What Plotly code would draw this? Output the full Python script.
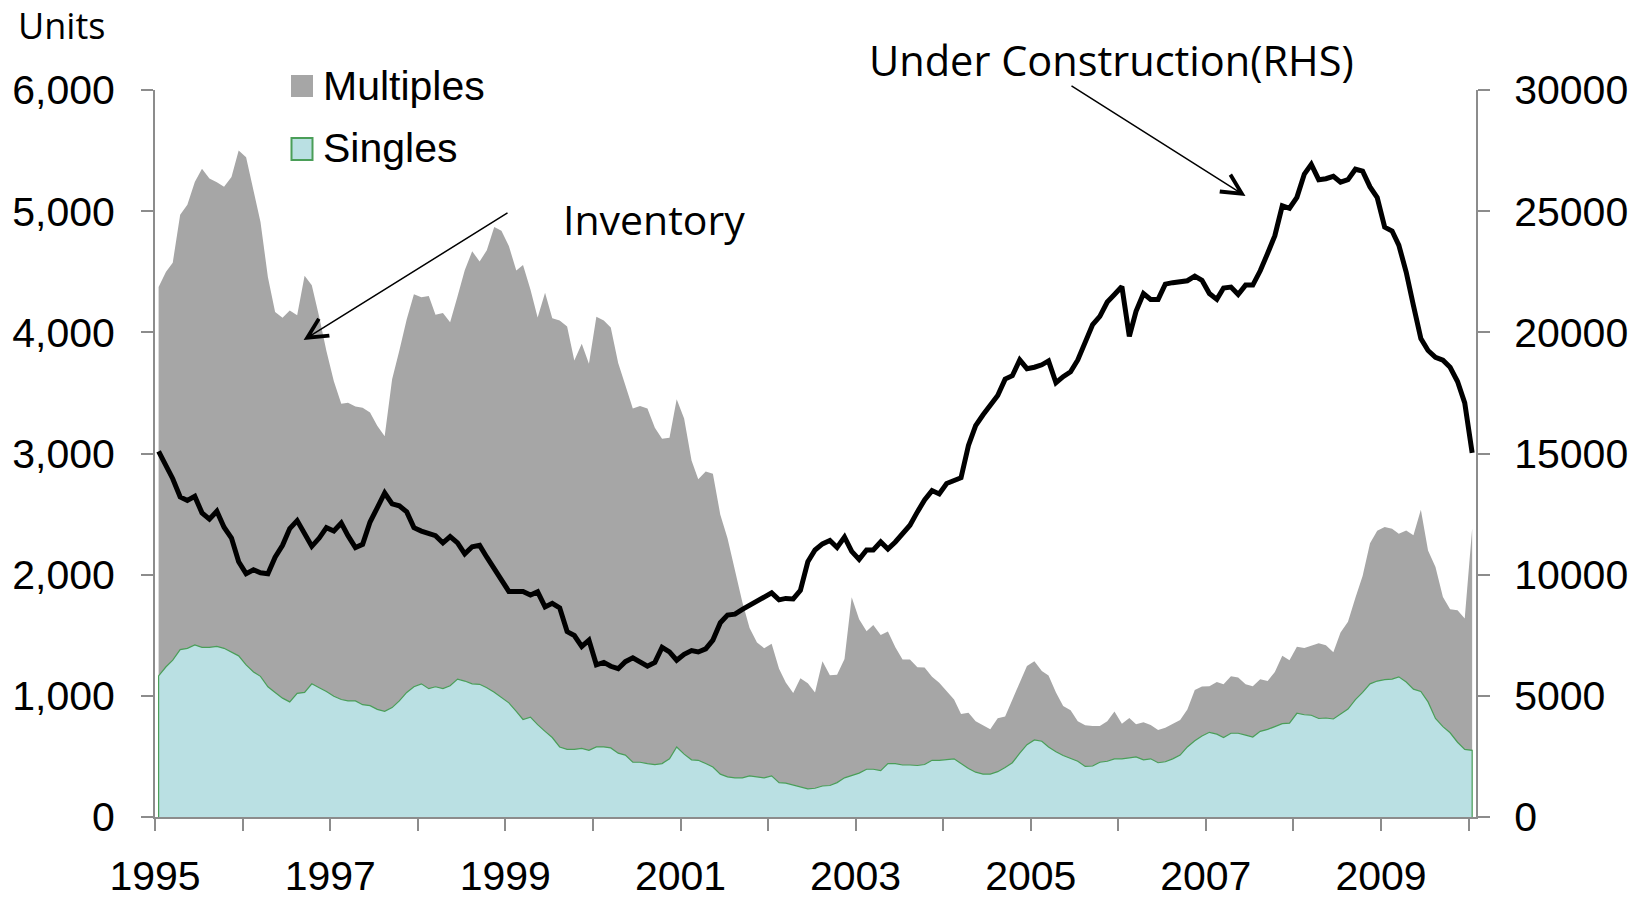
import pandas as pd
import plotly.graph_objects as go

# ---------------- data (monthly, Jan 1995 - Jan 2010) ----------------
start_month = "1995-01-01"
n_months = 181

singles = [1165,1240,1295,1381,1392,1420,1400,1400,1408,1392,
           1361,1330,1255,1197,1161,1075,1028,981,950,1020,
           1028,1099,1067,1036,997,970,958,958,927,919,
           888,872,903,958,1028,1075,1099,1059,1075,1059,
           1083,1138,1122,1099,1095,1067,1030,989,942,871,
           805,824,762,707,656,578,558,558,566,550,
           578,578,570,527,511,452,452,441,433,441,
           480,578,519,472,468,441,413,354,331,323,
           323,339,331,323,339,284,280,264,245,233,
           237,256,260,284,323,343,362,394,394,382,
           441,441,429,429,425,433,468,468,472,480,
           441,401,370,354,354,374,409,448,527,597,
           636,625,578,538,507,480,460,417,421,452,
           460,480,480,488,496,472,480,448,456,480,
           511,578,629,668,699,684,656,691,691,676,
           660,707,723,746,770,774,856,844,840,813,
           817,809,852,891,969,1028,1099,1122,1134,1138,
           1157,1114,1055,1036,950,813,746,695,617,558,
           550]

multiples = [3210,3260,3280,3590,3660,3820,3950,3870,3830,3810,
             3920,4170,4190,3980,3750,3380,3140,3140,3230,3120,
             3440,3290,3060,2810,2600,2440,2460,2430,2450,2420,
             2340,2270,2710,2890,3080,3240,3190,3240,3070,3100,
             3000,3160,3390,3570,3490,3610,3840,3850,3770,3640,
             3750,3530,3360,3620,3460,3520,3490,3210,3340,3190,
             3550,3520,3470,3220,3060,2920,2940,2930,2780,2680,
             2650,2870,2770,2470,2320,2410,2420,2140,1970,1720,
             1450,1220,1110,1070,1090,940,830,760,900,870,
             790,1030,910,890,980,1470,1270,1140,1190,1120,
             1090,960,870,870,810,800,690,640,570,490,
             410,460,420,400,370,440,420,520,580,650,
             650,580,590,490,410,400,330,340,330,300,
             330,390,290,330,270,310,280,270,280,290,
             290,310,420,410,380,430,440,470,460,420,
             420,430,400,450,560,520,550,550,570,620,
             600,550,670,720,840,960,1160,1240,1260,1240,
             1180,1250,1270,1500,1250,1250,1070,1020,1090,1080,
             1830]

under_construction = [15090,14540,13960,13210,13060,13230,12550,12290,12620,11960,
                      11510,10530,10040,10200,10080,10040,10720,11210,11900,12230,
                      11700,11170,11510,11940,11800,12130,11610,11120,11250,12170,
                      12760,13370,12920,12840,12590,11940,11800,11680,11610,11310,
                      11570,11310,10860,11150,11210,10720,10230,9800,9310,9310,
                      9310,9160,9290,8670,8820,8630,7650,7490,7040,7300,
                      6280,6380,6220,6120,6410,6570,6410,6220,6380,7000,
                      6810,6470,6710,6870,6810,6940,7300,8020,8330,8370,
                      8570,8730,8900,9060,9250,8960,9020,9000,9350,10530,
                      11020,11270,11410,11120,11550,10960,10630,11020,11020,11350,
                      11060,11350,11700,12040,12590,13080,13470,13330,13760,13860,
                      14000,15330,16150,16600,17030,17390,18070,18210,18860,18500,
                      18560,18660,18820,17920,18170,18370,18860,19540,20320,20660,
                      21250,21560,21890,19830,20870,21600,21360,21360,21990,22050,
                      22100,22130,22320,22150,21600,21360,21830,21870,21560,21950,
                      21950,22540,23260,23990,25220,25120,25570,26530,26930,26300,
                      26340,26440,26200,26300,26730,26650,26000,25560,24340,24180,
                      23600,22480,21110,19740,19250,18970,18850,18560,17970,17090,
                      15030]

years = list(range(1995, 2011))
year_labels = [str(y) if (y - 1995) % 2 == 0 and y < 2010 else "" for y in years]
left_ticks = [0, 1000, 2000, 3000, 4000, 5000, 6000]
right_ticks = [0, 5000, 10000, 15000, 20000, 25000, 30000]

# ---------------- styling ----------------
GRAY = "#A6A6A6"
CYAN = "#BAE0E3"
GREEN = "#4A9E58"
AXIS = "#8C8C8C"
NUM_FONT = "Liberation Sans, Arial, sans-serif"
TXT_FONT = "Open Sans, sans-serif"

W, H = 1646, 899
L, R, T, B = 155, 1476, 90, 817


def px(x):
    return (x - L) / (R - L)


def py(y):
    return (B - y) / (B - T)


months = pd.date_range(start_month, periods=n_months, freq="MS")
x = list(months + pd.Timedelta(days=15))
inventory_total = [s + m for s, m in zip(singles, multiples)]

fig = go.Figure()
# Multiples stacked on top of singles (drawn as the total, singles drawn over it)
fig.add_trace(go.Scatter(x=x, y=inventory_total, name="Multiples",
                         mode="lines", line=dict(width=0), fill="tozeroy",
                         fillcolor=GRAY, showlegend=False,
                         customdata=multiples,
                         hovertemplate="Multiples: %{customdata}<extra></extra>"))
# Singles with its border closed down to the axis at both ends
fig.add_trace(go.Scatter(x=[x[0]] + x + [x[-1]], y=[0] + singles + [0],
                         name="Singles", mode="lines",
                         line=dict(color=GREEN, width=1.2), fill="tozeroy",
                         fillcolor=CYAN, showlegend=False))
fig.add_trace(go.Scatter(x=x, y=under_construction, name="Under Construction",
                         yaxis="y2", mode="lines",
                         line=dict(color="black", width=5),
                         showlegend=False))

tick_dates = [pd.Timestamp(f"{y}-01-01") for y in years]

axis_common = dict(showline=True, linecolor=AXIS, linewidth=2, ticks="outside",
                   ticklen=12, tickwidth=2, tickcolor=AXIS, showgrid=False,
                   zeroline=False, automargin=False,
                   tickfont=dict(family=NUM_FONT, size=41, color="black"))

fig.update_layout(
    width=W, height=H,
    margin=dict(l=L, r=W - R, t=T, b=H - B, autoexpand=False),
    paper_bgcolor="white", plot_bgcolor="white",
    showlegend=False,
    xaxis=dict(type="date", range=[pd.Timestamp("1995-01-01"), pd.Timestamp("2010-02-01")],
               tickmode="array", tickvals=tick_dates, ticktext=year_labels,
               ticklabelstandoff=10, **axis_common),
    yaxis=dict(range=[0, 6000], tickmode="array", tickvals=left_ticks,
               tickformat=",", ticklabelstandoff=18, **axis_common),
    yaxis2=dict(range=[0, 30000], overlaying="y", side="right", tickmode="array",
                tickvals=right_ticks, tickformat="d", ticklabelstandoff=16,
                **axis_common),
)

annotations = [
    dict(text="Units", x=px(16), y=py(26), xanchor="left", yanchor="middle",
         font=dict(family=TXT_FONT, size=36, color="black")),
    dict(text="Inventory", x=px(561), y=py(219), xanchor="left", yanchor="middle",
         font=dict(family=TXT_FONT, size=41, color="black")),
    dict(text="Under Construction(RHS)", x=px(867), y=py(60), xanchor="left",
         yanchor="middle", font=dict(family=TXT_FONT, size=41.5, color="black")),
    dict(text="Multiples", x=px(321), y=py(86), xanchor="left", yanchor="middle",
         font=dict(family=NUM_FONT, size=41, color="black")),
    dict(text="Singles", x=px(321), y=py(148), xanchor="left", yanchor="middle",
         font=dict(family=NUM_FONT, size=41, color="black")),
    # arrows
    dict(text="", x=px(303.6), y=py(340), ax=509 - 303.6, ay=212 - 340,
         axref="pixel", ayref="pixel", showarrow=True, arrowhead=5,
         arrowsize=2.6, arrowwidth=1.5, arrowcolor="black", standoff=0),
    dict(text="", x=px(1245.5), y=py(196), ax=1070 - 1245.5, ay=85 - 196,
         axref="pixel", ayref="pixel", showarrow=True, arrowhead=5,
         arrowsize=2.6, arrowwidth=1.5, arrowcolor="black", standoff=0),
]
for a in annotations:
    a.setdefault("xref", "paper")
    a.setdefault("yref", "paper")
    a.setdefault("showarrow", False)
fig.update_layout(annotations=annotations)

shapes = [
    dict(type="rect", xref="paper", yref="paper", x0=px(291), x1=px(313),
         y0=py(97), y1=py(75), fillcolor=GRAY, line=dict(width=0)),
    dict(type="rect", xref="paper", yref="paper", x0=px(291.5), x1=px(312.5),
         y0=py(160), y1=py(138), fillcolor=CYAN, line=dict(color=GREEN, width=2)),
]
fig.update_layout(shapes=shapes)

fig.write_html("out.html", config={"displayModeBar": False},
               post_script="document.body.style.margin='0';document.body.style.overflow='hidden';")
